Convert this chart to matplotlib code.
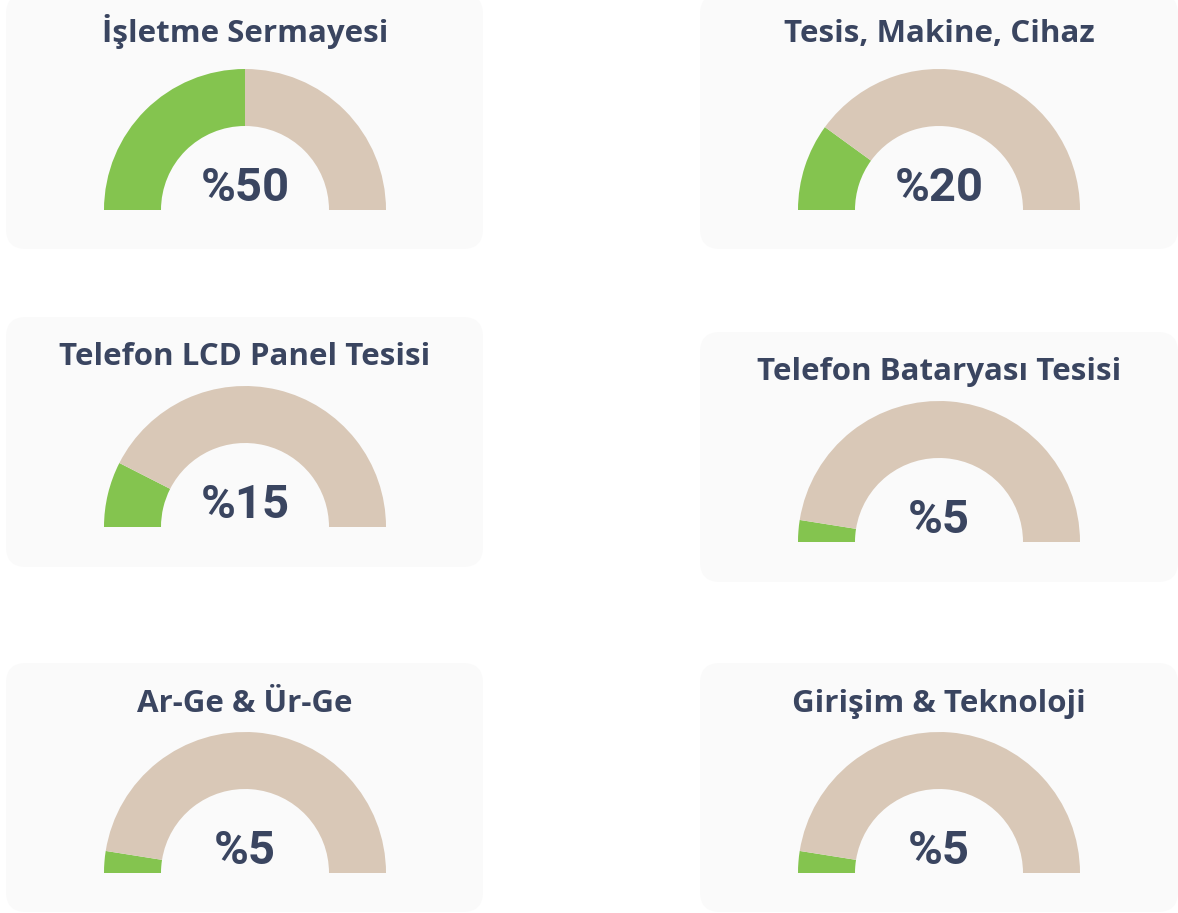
import matplotlib
matplotlib.use("Agg")
import matplotlib.pyplot as plt
from matplotlib.patches import Wedge, FancyBboxPatch

# data
titles = ["İşletme Sermayesi", "Tesis, Makine, Cihaz",
          "Telefon LCD Panel Tesisi", "Telefon Bataryası Tesisi",
          "Ar-Ge & Ür-Ge", "Girişim & Teknoloji"]
values = [50, 20, 15, 5, 5, 5]

# layout, in pixels from top-left of the image
W, H = 1178, 913
card_x = [6, 700, 6, 700, 6, 700]
card_w = [477, 478, 477, 478, 477, 478]
card_top = [-6, -6, 317, 332, 663, 663]
card_bot = [249, 249, 567, 582, 912, 912]
gauge_cx = [245, 939, 245, 939, 245, 939]
gauge_y = [210, 210, 527, 542, 873, 873]
title_y = [42, 42, 365, 380, 712, 712]

r_out = 141
r_in = 84
green = "#84c44f"
beige = "#d9c8b7"
card_bg = "#fafafa"
txt = "#3a4560"

fig = plt.figure(figsize=(W / 100, H / 100), dpi=100)
fig.patch.set_facecolor("white")
ax = fig.add_axes([0, 0, 1, 1])
ax.set_xlim(0, W)
ax.set_ylim(0, H)
ax.axis("off")

def fy(y):
    return H - y

for i in range(len(titles)):
    # card
    ax.add_patch(FancyBboxPatch((card_x[i], fy(card_bot[i])), card_w[i],
                                card_bot[i] - card_top[i],
                                boxstyle="round,pad=0,rounding_size=20",
                                fc=card_bg, ec="none"))
    # gauge
    c = (gauge_cx[i], fy(gauge_y[i]))
    split = 180 - 180 * values[i] / 100
    ax.add_patch(Wedge(c, r_out, split, 180, width=r_out - r_in, fc=green, ec="none"))
    ax.add_patch(Wedge(c, r_out, 0, split, width=r_out - r_in, fc=beige, ec="none"))

    ax.text(gauge_cx[i], fy(title_y[i]), titles[i], ha="center", va="baseline",
            fontsize=22.5, fontweight="bold", family=["Open Sans", "DejaVu Sans"], color=txt)
    ax.text(gauge_cx[i], fy(gauge_y[i] - 9), "%" + str(values[i]), ha="center",
            va="baseline", fontsize=34, fontweight="bold", family=["Roboto", "DejaVu Sans"],
            color=txt)

fig.savefig("out.png", dpi=100, facecolor="white")
